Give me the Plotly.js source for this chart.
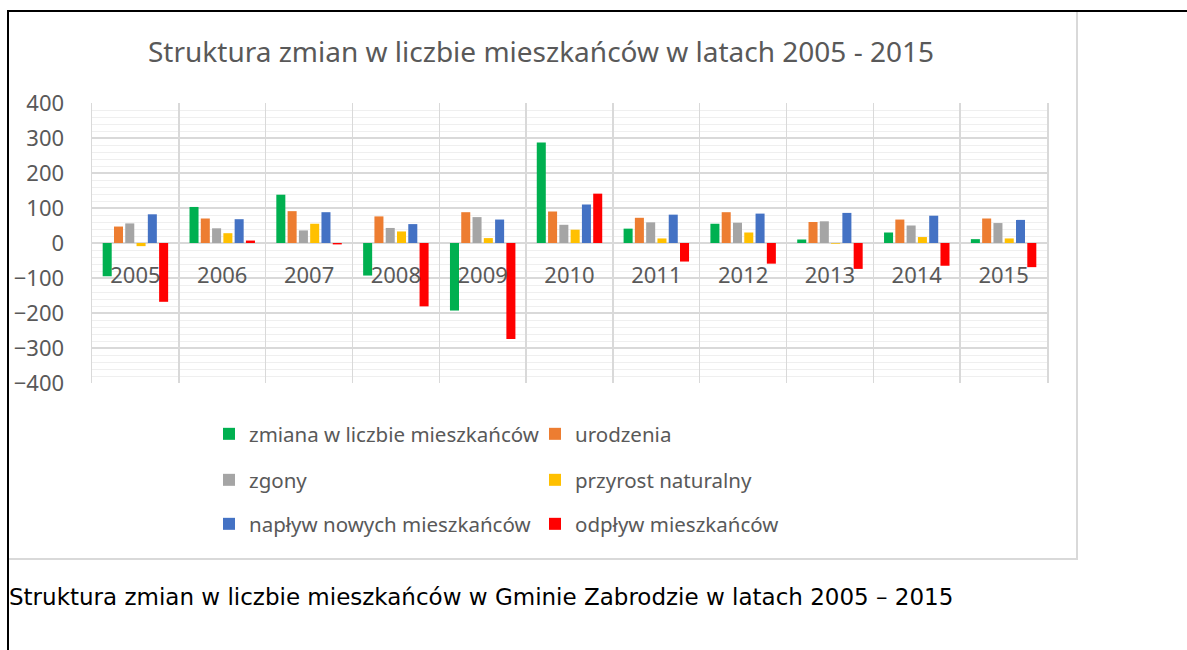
<!DOCTYPE html>
<html>
<head>
<meta charset="utf-8">
<script src="https://cdn.plot.ly/plotly-3.0.1.min.js"></script>
<style>
  html, body { margin: 0; padding: 0; background: #fff; }
  #wrap { position: relative; width: 1187px; height: 650px; overflow: hidden; }
  #chart { position: absolute; left: 0; top: 0; width: 1187px; height: 650px; }
  .ln { position: absolute; pointer-events: none; }
</style>
</head>
<body>
<div id="wrap">
  <div id="chart"></div>
  <div class="ln" style="left:9px;top:12px;width:1067px;height:546px;border-right:2px solid #d9d9d9;border-bottom:2px solid #d9d9d9;"></div>
  <div class="ln" style="left:7px;top:10px;width:1180px;height:2px;background:#000;"></div>
  <div class="ln" style="left:7px;top:10px;width:2px;height:640px;background:#000;"></div>
</div>
<script>
const years = ['2005','2006','2007','2008','2009','2010','2011','2012','2013','2014','2015'];
const zmiana     = [-95, 103, 138, -93, -193, 287, 41, 55, 10, 30, 11];
const urodzenia  = [47, 70, 91, 76, 88, 90, 72, 88, 60, 67, 70];
const zgony      = [56, 42, 36, 43, 74, 52, 59, 58, 62, 50, 57];
const przyrost   = [-9, 28, 55, 33, 14, 38, 13, 30, -2, 17, 13];
const naplyw     = [82, 68, 88, 54, 67, 110, 81, 84, 86, 78, 66];
const odplyw     = [-168, 7, -4, -181, -274, 141, -53, -59, -74, -65, -69];

const seriesNames = ['zmiana w liczbie mieszkańców','urodzenia','zgony','przyrost naturalny','napływ nowych mieszkańców','odpływ mieszkańców'];
const seriesData = [zmiana, urodzenia, zgony, przyrost, naplyw, odplyw];
const seriesColors = ['#00b050','#ed7d31','#a5a5a5','#ffc000','#4472c4','#ff0000'];
const seriesLegend = ['legend','legend','legend2','legend2','legend3','legend3'];

const traces = seriesNames.map((n, i) => ({
  type: 'bar', name: n, x: years, y: seriesData[i],
  marker: { color: seriesColors[i], line: { width: 0 } },
  legend: seriesLegend[i]
}));

const txt = '#595959';
const fnt = 'Noto Sans, Open Sans, sans-serif';
const H = 650, W = 1187;
const PL = 92, PR = 1047, PT = 103, PB = 383;
function legendAt(yPx) {
  return {
    orientation: 'h', xref: 'container', yref: 'container',
    x: 209 / W, xanchor: 'left', y: 1 - yPx / H, yanchor: 'middle',
    font: { family: fnt, size: 20.5, color: txt },
    entrywidth: 281, entrywidthmode: 'pixels',
    bgcolor: 'rgba(0,0,0,0)', borderwidth: 0, traceorder: 'normal'
  };
}

const layout = {
  width: W, height: H,
  margin: { l: PL, r: W - PR, t: PT, b: H - PB, pad: 0 },
  paper_bgcolor: '#ffffff', plot_bgcolor: '#ffffff',
  font: { family: fnt, color: txt },
  title: {
    text: 'Struktura zmian w liczbie mieszkańców w latach 2005 - 2015',
    font: { family: fnt, size: 28, color: txt },
    xref: 'container', x: 541 / W, xanchor: 'center',
    yref: 'container', y: 1 - 52 / H, yanchor: 'middle'
  },
  barmode: 'group', bargap: 0.22, bargroupgap: 0.2,
  xaxis: {
    type: 'category', anchor: 'free', position: 0.5,
    tickson: 'boundaries', showgrid: true, gridcolor: '#d9d9d9', gridwidth: 1.5,
    ticks: '', showline: false, zeroline: false,
    tickfont: { family: fnt, size: 22, color: txt },
    ticklabelstandoff: 17
  },
  yaxis: {
    range: [-400, 400], dtick: 100, tick0: 0,
    showgrid: true, gridcolor: '#d9d9d9', gridwidth: 1.5,
    zeroline: true, zerolinecolor: '#d9d9d9', zerolinewidth: 1.5,
    showline: true, mirror: true, linecolor: '#d9d9d9', linewidth: 1.5,
    ticks: '', tickfont: { family: fnt, size: 22, color: txt },
    ticklabelstandoff: 22,
    minor: { dtick: 20, showgrid: true, gridcolor: '#efefef', gridwidth: 1 }
  },
  legend: legendAt(434),
  legend2: legendAt(480),
  legend3: legendAt(524),
  annotations: [{
    text: 'Struktura zmian w liczbie mieszkańców w Gminie Zabrodzie w latach 2005 – 2015',
    xref: 'paper', yref: 'paper',
    x: (7 - PL) / (PR - PL), y: (PB - 597) / (PB - PT),
    xanchor: 'left', yanchor: 'middle', showarrow: false,
    font: { family: 'DejaVu Sans, sans-serif', size: 23, color: '#000' }
  }]
};

Plotly.newPlot('chart', traces, layout, { displayModeBar: false, staticPlot: true });
</script>
</body>
</html>
